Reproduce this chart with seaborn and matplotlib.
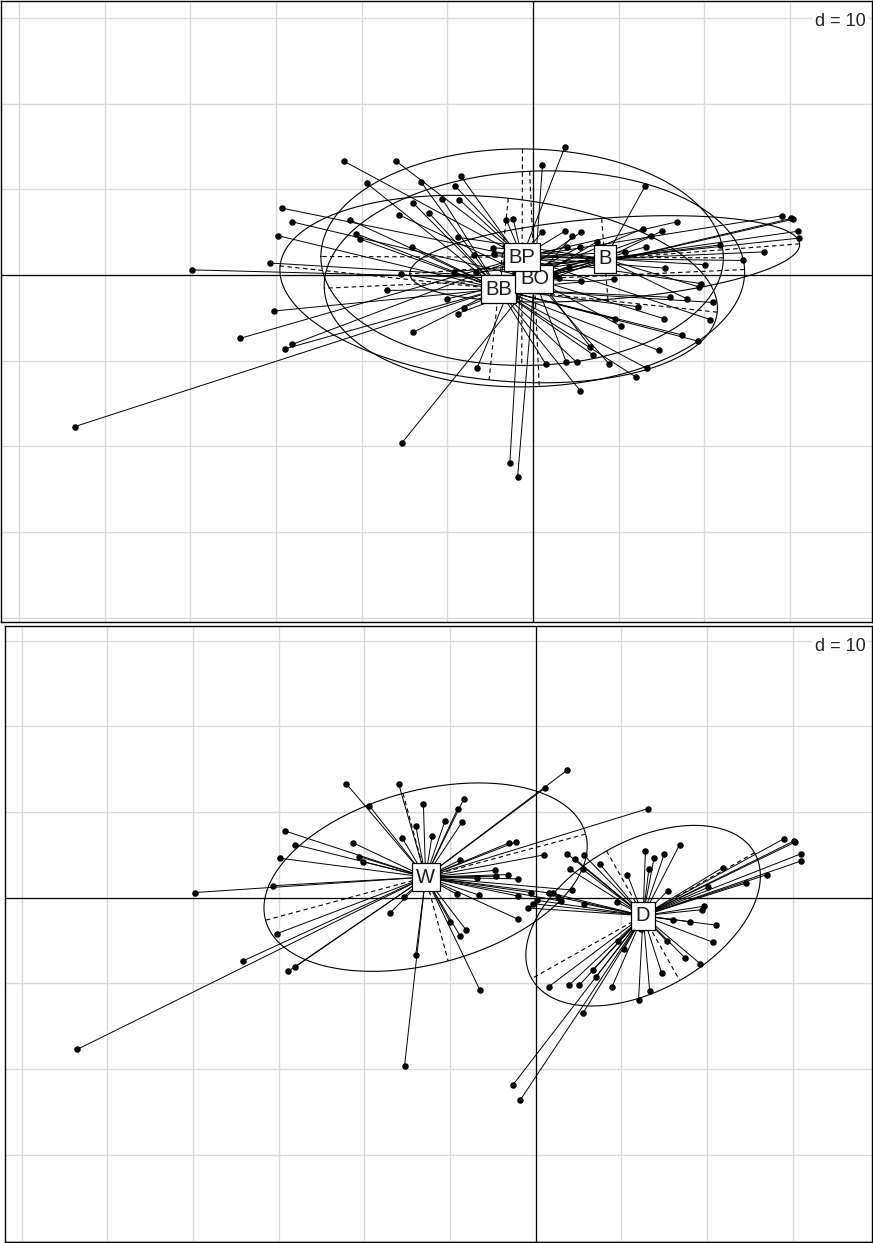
import numpy as np
import pandas as pd
import matplotlib
matplotlib.use("Agg")
import matplotlib.pyplot as plt
from matplotlib.collections import LineCollection
import seaborn as sns

# coordinates of the rows on the two first axes (d = 10 grid units)
axis1 = [-29.3, -28.1, -29.8, -30.7, -39.8, -30.2, -34.2, -28.9, -28.1, -53.5,
         -22.1, -16.0, -19.4, -13.1, -8.4, -9.1, -10.6, -8.6, -14.0, -15.6,
         -12.1, -21.3, -20.6, -20.2, 1.1, 3.7, 13.1, -3.1, -2.3, 1.0,
         -8.8, -4.7, -4.6, -3.2, -2.1, -6.9, -9.2, -6.6, -2.1, -0.5,
         -2.1, -15.4, -17.0, -10.0, -8.1, -14.0, -15.3, -6.5, -8.8, -14.1,
         2.0, 3.0, 4.2,
         1.5, 2.6, -0.9, 0.1, -0.3, 1.5, -2.7, -1.8, 16.8, 12.8,
         15.0, 13.8, 13.2, 10.7, 15.4, 7.5, 3.7, 4.6, 5.6, 4.0,
         5.5, 5.6, 9.5, 29.0, 30.3, 30.1, 30.9, 31.0, 21.8, 27.0,
         24.5, 20.1, 19.6, 19.4, 16.0, 18.0, 21.0, 20.7, 15.3, 17.4,
         19.2, 14.7, 13.3, 12.0, 10.3, 9.6, 6.7, 7.0, 3.9, 5.1,
         8.9, 5.5, 12.3]
axis2 = [7.8, 6.2, 4.6, 1.4, 0.6, -4.2, -7.4, -8.6, -8.1, -17.7,
         13.3, 13.3, 10.7, 10.9, 11.5, 10.4, 8.9, 8.8, 8.4, 7.0,
         7.2, 6.4, 4.8, 4.2, 12.8, 14.9, 10.4, 6.4, 6.5, 5.0,
         4.4, 3.2, 2.5, 2.7, 2.2, 2.3, 0.4, 0.3, 0.2, 0.6,
         -2.5, 0.1, -1.8, -2.8, -3.8, -6.7, -19.6, -10.8, -4.5, 3.3,
         0.5, -0.4, 0.9,
         0.6, 0.1, -1.2, -0.3, -0.7, -10.4, -21.9, -23.6, 6.2, 5.4,
         5.1, 4.6, 3.3, 2.7, 0.8, 3.9, 5.1, 4.5, 5.0, 3.3,
         3.3, -0.7, -0.5, 6.9, 6.5, 6.6, 5.1, 4.3, 3.5, 2.7,
         1.7, 1.2, -1.0, -1.4, -2.6, -2.8, -3.2, -5.2, -5.1, -7.0,
         -7.7, -8.8, -10.9, -11.9, -6.0, -5.1, -8.4, -9.3, -10.2, -10.2,
         -10.4, -13.5, -3.7]
habitat = ["W"] * 53 + ["D"] * 53
group = ["BP", "BO", "BB", "BO", "BO", "BB", "BP", "BB", "BP", "BB",
         "BP", "BP", "BB", "BB", "BO", "BP", "BB", "BP", "BB", "BO",
         "BB", "BB", "BB", "BB", "BO", "BP", "B", "BP", "BP", "BP",
         "B", "B", "B", "BB", "BP", "B", "B", "B", "B", "BP",
         "BB", "BB", "BB", "B", "BO", "BB", "BO", "BP", "B", "BB",
         "BO", "BO", "BB",
         "BP", "BO", "BB", "BO", "BO", "BB", "BP", "BO", "BP", "BB",
         "B", "BO", "BO", "BP", "BP", "BO", "BP", "BO", "BB", "BP",
         "BB", "BO", "BB", "BP", "BO", "BO", "B", "B", "B", "B",
         "B", "B", "BP", "B", "BB", "B", "BB", "BP", "BO", "BB",
         "BB", "BB", "BB", "BB", "BO", "BB", "BP", "BB", "BO", "BB",
         "BO", "BB", "BB"]
group_levels = ["B", "BB", "BO", "BP"]
habitat_levels = ["D", "W"]

df = pd.DataFrame({"axis1": axis1, "axis2": axis2,
                   "habitat": habitat, "group": group})

sns.set_style("white")
plt.rcParams["font.family"] = ["Liberation Sans", "DejaVu Sans"]

W, H = 873, 1243
fig = plt.figure(figsize=(W / 100, H / 100), dpi=100)


def s_class(rect, fac, levels, xlim, ylim):
    ax = fig.add_axes(rect)
    ax.set_xlim(xlim)
    ax.set_ylim(ylim)
    for g in range(-60, 40, 10):
        ax.axvline(g, color="#d9d9d9", lw=1.0, zorder=0)
    for g in range(-40, 40, 10):
        ax.axhline(g, color="#d9d9d9", lw=1.0, zorder=0)
    ax.axhline(0, color="black", lw=0.9, zorder=1)
    ax.axvline(0, color="black", lw=0.9, zorder=1)

    centers = {}
    for lev in levels:
        sub = df[df[fac] == lev]
        cx, cy = sub["axis1"].mean(), sub["axis2"].mean()
        centers[lev] = (cx, cy)
        segs = [[(cx, cy), (x, y)] for x, y in zip(sub["axis1"], sub["axis2"])]
        ax.add_collection(LineCollection(segs, colors="black", linewidths=0.7, zorder=2))
        cov = np.cov(sub["axis1"], sub["axis2"], bias=True)
        vals, vecs = np.linalg.eigh(cov)
        t = np.linspace(0, 2 * np.pi, 300)
        a, b = 1.5 * np.sqrt(vals[1]), 1.5 * np.sqrt(vals[0])
        v1, v0 = vecs[:, 1], vecs[:, 0]
        ex = cx + a * np.cos(t) * v1[0] + b * np.sin(t) * v0[0]
        ey = cy + a * np.cos(t) * v1[1] + b * np.sin(t) * v0[1]
        ax.plot(ex, ey, color="black", lw=0.8, zorder=2)
        for r, v in ((a, v1), (b, v0)):
            ax.plot([cx - r * v[0], cx + r * v[0]], [cy - r * v[1], cy + r * v[1]],
                    color="black", lw=0.8, ls=(0, (4, 3)), zorder=2)

    sns.scatterplot(data=df, x="axis1", y="axis2", color="black", s=22,
                    linewidth=0, ax=ax, legend=False, zorder=3)

    for lev, (cx, cy) in centers.items():
        ax.text(cx, cy, lev, ha="center", va="center", fontsize=14.5, color="#1a1a1a",
                zorder=5, bbox=dict(boxstyle="square,pad=0.22", fc="white",
                                    ec="black", lw=0.9))

    ax.annotate("d = 10", xy=(1, 1), xycoords="axes fraction",
                xytext=(-4.5, -18), textcoords="offset points",
                ha="right", va="baseline", fontsize=13, zorder=6,
                bbox=dict(boxstyle="square,pad=0.15", fc="white", ec="none"))
    ax.set_xlabel("")
    ax.set_ylabel("")
    ax.set_xticks([])
    ax.set_yticks([])
    ax.set_aspect("auto")
    for sp in ax.spines.values():
        sp.set_visible(True)
        sp.set_color("black")
        sp.set_linewidth(1.0)
    return ax


scale = 8.57  # pixels per unit
# top panel: frame x 1..872, y 1..622, origin at pixel (533, 275)
s_class([1 / W, 1 - 622 / H, 871 / W, 621 / H], "group", group_levels,
        ((1 - 533) / scale, (872 - 533) / scale),
        ((275 - 622) / scale, (275 - 1) / scale))
# bottom panel: frame x 4.5..872, y 626..1242, origin at pixel (535.7, 897.7)
s_class([4.5 / W, 1 - 1242 / H, 867.5 / W, 616 / H], "habitat", habitat_levels,
        ((4.5 - 535.7) / scale, (872 - 535.7) / scale),
        ((897.7 - 1242) / scale, (897.7 - 626) / scale))

fig.savefig("out.png", dpi=100)
